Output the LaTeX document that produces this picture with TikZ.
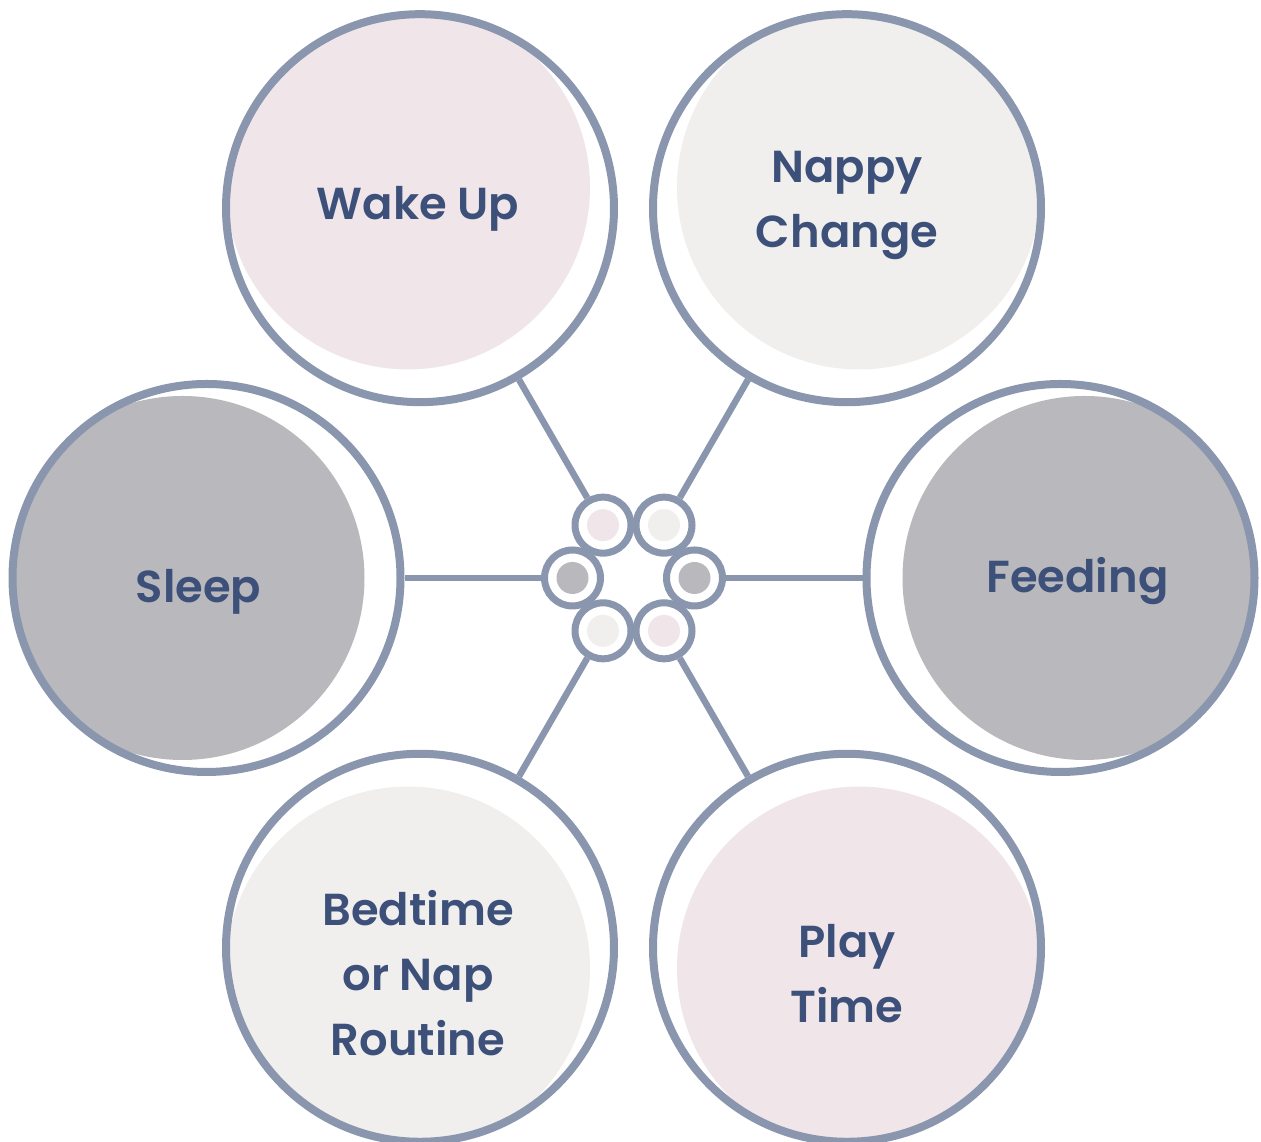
\documentclass[tikz,border=0pt]{standalone}
\usepackage{fontspec}
\newfontfamily\stagefont{Poppins SemiBold}
\usetikzlibrary{calc}

\definecolor{linecol}{HTML}{8A96AE}
\definecolor{textcol}{HTML}{3C5079}
\definecolor{pinkfill}{HTML}{F0E6EA}
\definecolor{palefill}{HTML}{F0EFED}
\definecolor{greyfill}{HTML}{B9B8BD}

\tikzset{
  stage/.style={circle, draw=linecol, line width=0.16cm, fill=white,
    minimum size=7.76cm, inner sep=0pt},
  tint/.style 2 args={path picture={
    \fill[#1] ($(path picture bounding box.center)+(#2:0.48)$) circle (3.64);}},
  hub/.style={circle, draw=linecol, line width=0.14cm, fill=white,
    minimum size=1.12cm, inner sep=0pt,
    path picture={\fill[#1] (path picture bounding box.center) circle (0.32);}},
  lbl/.style={text=textcol, align=center,
    font=\stagefont\fontsize{25.5}{37}\selectfont},
  link/.style={draw=linecol, line width=0.13cm},
}

\begin{document}
\begin{tikzpicture}
  \useasboundingbox (0,0) rectangle (25.22,22.84);
  \coordinate (mid) at (12.67,11.28);

  % outer ring of stages
  \node[stage, tint={pinkfill}{120}] (wake)  at ($(mid)+(120:8.54)$) {};
  \node[stage, tint={palefill}{60}]  (nappy) at ($(mid)+(60:8.54)$)  {};
  \node[stage, tint={greyfill}{0}]   (feed)  at ($(mid)+(0:8.54)$)   {};
  \node[stage, tint={pinkfill}{300}] (play)  at ($(mid)+(300:8.54)$) {};
  \node[stage, tint={palefill}{240}] (bed)   at ($(mid)+(240:8.54)$) {};
  \node[stage, tint={greyfill}{180}] (sleep) at ($(mid)+(180:8.54)$) {};

  % small hub circles
  \node[hub=pinkfill] (h1) at ($(mid)+(120:1.22)$) {};
  \node[hub=palefill] (h2) at ($(mid)+(60:1.22)$)  {};
  \node[hub=greyfill] (h3) at ($(mid)+(0:1.22)$)   {};
  \node[hub=pinkfill] (h4) at ($(mid)+(300:1.22)$) {};
  \node[hub=palefill] (h5) at ($(mid)+(240:1.22)$) {};
  \node[hub=greyfill] (h6) at ($(mid)+(180:1.22)$) {};

  \foreach \a/\b in {h1/wake, h2/nappy, h3/feed, h4/play, h5/bed, h6/sleep}
    \draw[link] (\a) -- (\b);

  % labels
  \node[lbl] (wakeT)  at ($(wake)+(-0.04,-0.02)$)  {Wake Up};
  \node[lbl] (nappyT) at ($(nappy)+(0,0.06)$)      {Nappy\\Change};
  \node[lbl] (feedT)  at ($(feed)+(0.34,-0.06)$)   {Feeding};
  \node[lbl] (playT)  at ($(play)+(0,-0.52)$)      {Play\\Time};
  \node[lbl] (bedT)   at ($(bed)+(-0.04,-0.5)$)    {Bedtime\\or Nap\\Routine};
  \node[lbl] (sleepT) at ($(sleep)+(-0.16,-0.28)$) {Sleep};
\end{tikzpicture}
\end{document}
